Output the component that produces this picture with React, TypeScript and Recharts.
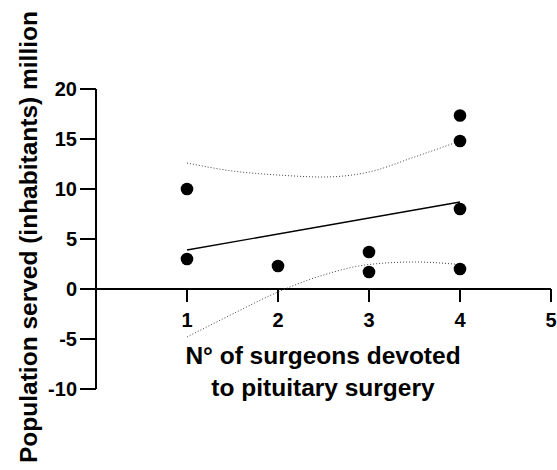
import { ComposedChart, Scatter, Line, XAxis, YAxis, ReferenceLine, ReferenceDot } from 'recharts';

// surgeons vs population served (million)
const surgeons = [1, 1, 2, 3, 3, 4, 4, 4, 4];
const population = [10, 3, 2.3, 3.7, 1.7, 17.35, 14.8, 8, 2];

// fitted line end points
const fitX = [1, 4];
const fitY = [3.9, 8.7];

// 95% band
const bandX = [1, 1.5, 2, 2.5, 3, 3.5, 4];
const bandUpper = [12.6, 11.8, 11.4, 11.2, 11.7, 13.2, 14.8];
const bandLower = [-4.8, -2.5, -0.3, 1.4, 2.45, 2.7, 2.45];

const xTicks = [1, 2, 3, 4, 5];
const yTicks = [-10, -5, 0, 5, 10, 15, 20];

const FONT = '"Liberation Sans", Arial, sans-serif';

export default function App() {
  const points = surgeons.map((x, i) => ({ x, y: population[i] }));
  const fit = fitX.map((x, i) => ({ x, y: fitY[i] }));
  const upper = bandX.map((x, i) => ({ x, y: bandUpper[i] }));
  const lower = bandX.map((x, i) => ({ x, y: bandLower[i] }));

  return (
    <div style={{ position: 'absolute', left: 0, top: 0, background: '#fff' }}>
      <ComposedChart width={557} height={470} margin={{ top: 89, right: 6, bottom: 81, left: 0 }}>
        <XAxis dataKey="x" type="number" domain={[0, 5]} hide />
        <YAxis
          type="number"
          domain={[-10, 20]}
          ticks={yTicks}
          width={96}
          axisLine={{ stroke: '#000', strokeWidth: 2 }}
          tickLine={{ stroke: '#000', strokeWidth: 2 }}
          tickSize={16}
          tickMargin={3}
          tick={{ fill: '#000', fontSize: 20, fontWeight: 'bold', fontFamily: FONT }}
        />
        <ReferenceLine y={0} stroke="#000" strokeWidth={2} />
        {xTicks.map(k => (
          <ReferenceLine
            key={'t' + k}
            segment={[{ x: k, y: 0 }, { x: k, y: -1.3 }]}
            stroke="#000"
            strokeWidth={2}
          />
        ))}
        {xTicks.map(k => (
          <ReferenceDot
            key={'l' + k}
            x={k}
            y={0}
            r={0}
            fill="none"
            stroke="none"
            label={{ value: String(k), position: 'bottom', offset: 24, fill: '#000', fontSize: 20, fontWeight: 'bold', fontFamily: FONT }}
          />
        ))}
        <Line data={upper} dataKey="y" type="monotone" stroke="#444" strokeWidth={1} strokeDasharray="1 2" dot={false} isAnimationActive={false} />
        <Line data={lower} dataKey="y" type="monotone" stroke="#444" strokeWidth={1} strokeDasharray="1 2" dot={false} isAnimationActive={false} />
        <Line data={fit} dataKey="y" type="linear" stroke="#000" strokeWidth={1.3} dot={false} isAnimationActive={false} />
        <Scatter
          data={points}
          dataKey="y"
          fill="#000"
          isAnimationActive={false}
          shape={(p: any) => <circle cx={p.cx} cy={p.cy} r={6.3} fill="#000" />}
        />
        <text x={37} y={237} transform="rotate(-90, 37, 237)" textAnchor="middle" fill="#000" fontSize={24.5} fontWeight="bold" fontFamily={FONT}>
          Population served (inhabitants) million
        </text>
        <text x={323} y={364} textAnchor="middle" fill="#000" fontSize={24.5} fontWeight="bold" fontFamily={FONT}>
          N° of surgeons devoted
        </text>
        <text x={323} y={396} textAnchor="middle" fill="#000" fontSize={24.5} fontWeight="bold" fontFamily={FONT}>
          to pituitary surgery
        </text>
      </ComposedChart>
    </div>
  );
}
